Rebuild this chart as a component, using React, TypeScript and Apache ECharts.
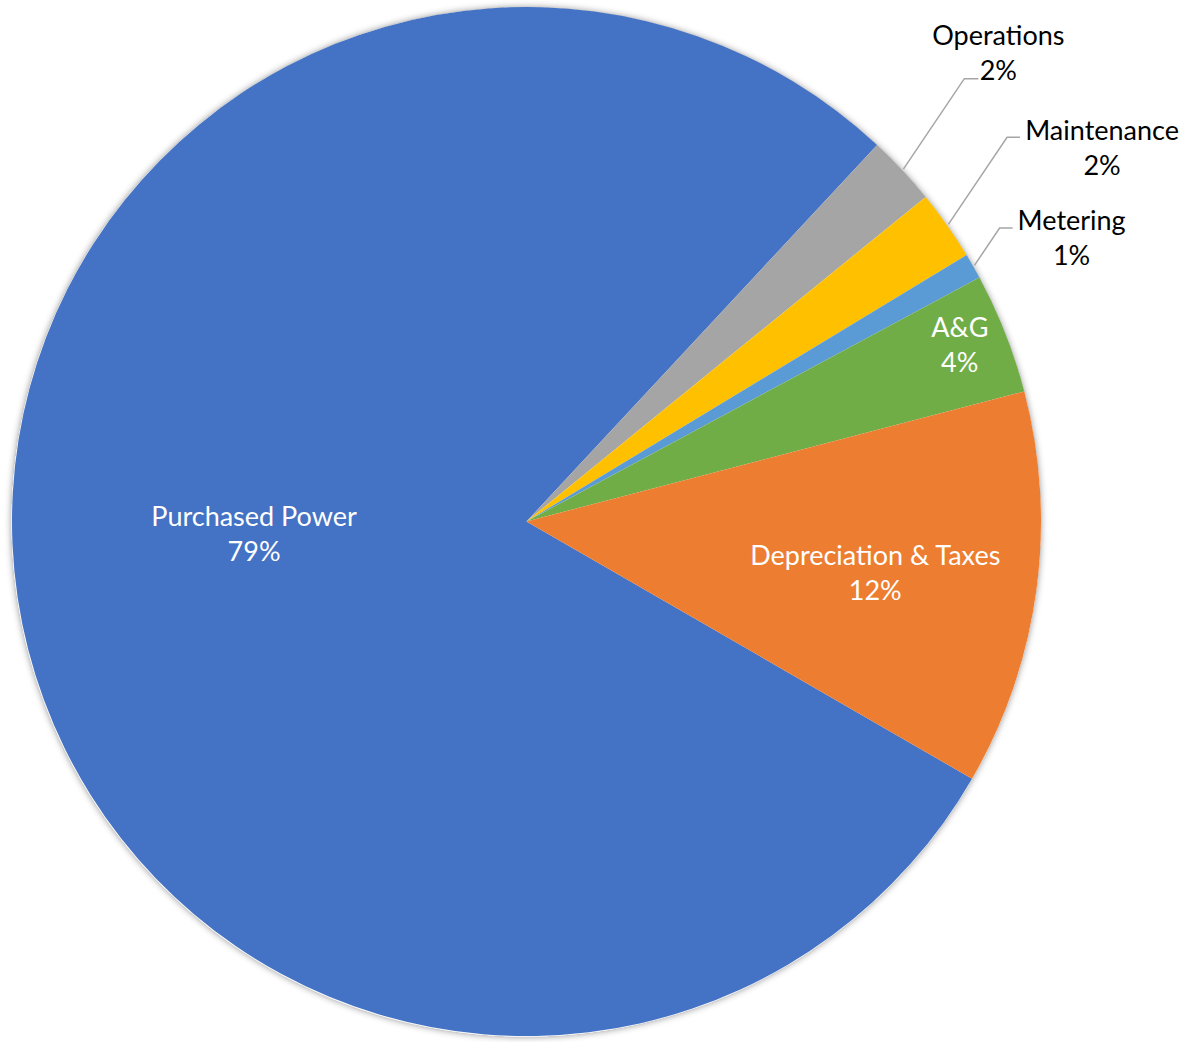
import React, { useEffect, useRef } from "react";
import * as echarts from "echarts";

const categories = ["Purchased Power", "Operations", "Maintenance", "Metering", "A&G", "Depreciation & Taxes"];
const values = [78.6, 2.2, 2.2, 0.8, 3.8, 12.4];
const colors = ["#4472C4", "#A5A5A5", "#FFC000", "#5B9BD5", "#70AD47", "#ED7D31"];
const outsideLabels = ["Operations", "Maintenance", "Metering"];

// layout config
const W = 1202;
const H = 1042;
const CX = 526.5;
const CY = 521.5;
const R = 514.5;
const START_ANGLE = -30; // echarts math angle (deg)
const FONT = "Lato, 'Open Sans', sans-serif";

const insidePlacement: Record<string, { frac: number; shift: number }> = {
  "Purchased Power": { frac: 0.53, shift: 6.1 },
  "A&G": { frac: 0.91, shift: -0.8 },
  "Depreciation & Taxes": { frac: 0.685, shift: 0.6 },
};
const outsidePlacement: Record<string, { len: number; len2: number; ox: number; oy: number }> = {
  Operations: { len: 109, len2: 14, ox: 20, oy: -27 },
  Maintenance: { len: 105, len2: 13, ox: 82, oy: 10 },
  Metering: { len: 45, len2: 13, ox: 59, oy: 9 },
};
const LEADER_DIR = 34; // degrees clockwise from vertical

function midAngles(): number[] {
  const total = values.reduce((a, b) => a + b, 0);
  let acc = 90 - START_ANGLE; // clock angle (deg, clockwise from 12 o'clock)
  return values.map((v) => {
    const span = (v / total) * 360;
    const m = acc + span / 2;
    acc += span;
    return m;
  });
}

function polar(r: number, clockDeg: number): [number, number] {
  const t = (clockDeg * Math.PI) / 180;
  return [CX + r * Math.sin(t), CY - r * Math.cos(t)];
}

export default function App() {
  const ref = useRef<HTMLDivElement>(null);
  useEffect(() => {
    if (!ref.current) return;
    const chart = echarts.init(ref.current, undefined, { renderer: "svg" });
    const mids = midAngles();
    const data = categories.map((name, i) => {
      const isOut = outsideLabels.includes(name);
      return {
        name,
        value: values[i],
        itemStyle: { color: colors[i] },
        label: isOut
          ? { position: "outside", color: "#000000", width: 240, overflow: "none" }
          : { position: "inside", color: "#ffffff" },
        labelLine: { show: isOut },
      };
    });
    chart.setOption({
      animation: false,
      backgroundColor: "#ffffff",
      series: [
        {
          type: "pie",
          z: 1,
          silent: true,
          center: [CX, CY],
          radius: R,
          startAngle: START_ANGLE,
          label: { show: false },
          labelLine: { show: false },
          emphasis: { disabled: true },
          itemStyle: {
            color: "#ffffff",
            shadowBlur: 7,
            shadowColor: "rgba(0,0,0,0.45)",
          },
          data: [{ value: 1, name: "" }],
        },
        {
          type: "pie",
          z: 2,
          center: [CX, CY],
          radius: R,
          startAngle: START_ANGLE,
          clockwise: true,
          percentPrecision: 0,
          avoidLabelOverlap: false,
          itemStyle: { borderWidth: 0 },
          label: {
            show: true,
            formatter: "{b}\n{d}%",
            fontFamily: FONT,
            fontSize: 27,
            lineHeight: 35,
            align: "center",
          },
          labelLine: {
            lineStyle: { color: "#a6a6a6", width: 1.5 },
          },
          labelLayout: (params: any) => {
            const i = params.dataIndex;
            const name = categories[i];
            const mid = mids[i];
            if (outsideLabels.includes(name)) {
              const c = outsidePlacement[name];
              const E = polar(R + 1.5, mid);
              const d = (LEADER_DIR * Math.PI) / 180;
              const P: [number, number] = [E[0] + c.len * Math.sin(d), E[1] - c.len * Math.cos(d)];
              const Q: [number, number] = [P[0] + c.len2, P[1]];
              return {
                x: Q[0] + c.ox,
                y: Q[1] + c.oy,
                align: "center",
                verticalAlign: "middle",
                labelLinePoints: [E, P, Q],
              };
            }
            const c = insidePlacement[name];
            const p = polar(R * c.frac, mid + c.shift);
            return { x: p[0], y: p[1], align: "center", verticalAlign: "middle" };
          },
          emphasis: { disabled: true },
          data,
        },
      ],
    });
    return () => chart.dispose();
  }, []);
  return <div ref={ref} style={{ position: "fixed", left: 0, top: 0, width: W, height: H }} />;
}
